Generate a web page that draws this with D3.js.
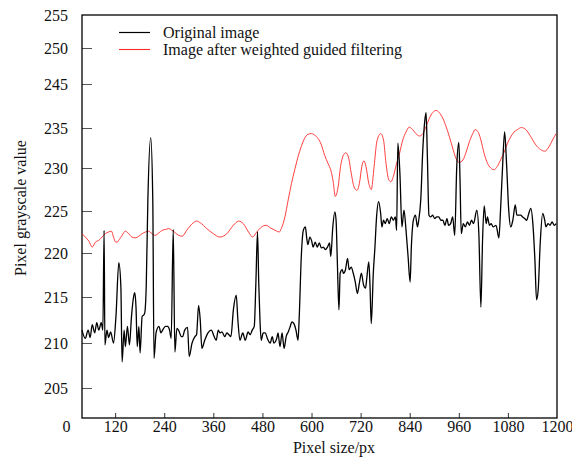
<!DOCTYPE html>
<html>
<head>
<meta charset="utf-8">
<script src="https://cdn.jsdelivr.net/npm/d3@7"></script>
<style>
  body { margin: 0; background: #fff; }
  svg text { font-family: "Liberation Serif", Tinos, "Times New Roman", Times, "DejaVu Serif", serif; }
</style>
</head>
<body>
<div id="chart"></div>
<script>
// Series: [pixel position, grayscale value]
const original = [[39,211.4],[47,210.5],[54,211.4],[59,210.6],[64,212.0],[70,211.1],[75,212.2],[80,211.4],[86,212.2],[90,211.4],
  [93,222.7],[95,209.8],[100,211.4],[104,210.6],[109,211.2],[116,210.0],[122,212.9],[129,218.9],[134,216.2],[137,207.9],
  [142,211.4],[145,209.6],[150,211.8],[155,209.8],[160,212.9],[165,215.0],[168,215.5],[171,213.9],[174,209.6],[178,211.8],
  [181,208.9],[186,212.9],[189,213.0],[192,213.2],[196,216.2],[200,226.3],[207,233.8],[212,226.3],[215,208.3],[220,211.1],
  [227,211.8],[232,211.1],[236,211.4],[243,211.8],[248,211.8],[253,211.4],[257,210.5],[262,222.8],[266,209.0],[271,211.6],
  [275,211.4],[282,210.7],[285,210.7],[290,211.4],[297,211.7],[301,208.5],[308,210.0],[315,210.7],[319,210.9],[324,214.1],
  [328,212.5],[332,209.4],[339,210.3],[347,211.1],[355,211.4],[362,210.7],[367,210.3],[372,211.4],[376,211.1],[381,211.2],
  [388,210.7],[393,211.1],[398,210.9],[403,210.7],[409,213.6],[416,215.2],[420,212.5],[425,210.3],[432,211.1],[438,210.3],
  [445,211.2],[450,210.9],[455,211.4],[460,211.8],[464,216.6],[468,222.5],[471,216.6],[474,212.5],[477,210.3],[482,211.1],
  [487,211.1],[492,210.5],[499,210.0],[504,210.7],[508,210.0],[515,210.5],[518,211.1],[523,209.6],[528,211.1],[533,209.4],
  [538,210.7],[543,211.2],[548,211.8],[552,212.3],[557,212.1],[562,211.4],[567,210.3],[570,212.9],[575,219.6],[580,222.7],
  [585,223.1],[588,221.9],[591,221.0],[596,221.9],[600,221.5],[604,220.7],[609,221.3],[614,220.7],[619,221.2],[624,220.6],
  [629,220.7],[634,220.4],[639,220.7],[644,221.2],[647,219.6],[652,223.1],[657,224.9],[660,223.9],[663,219.2],[667,213.6],
  [670,217.7],[675,218.1],[678,217.7],[683,218.1],[688,219.4],[692,218.1],[697,218.4],[702,217.7],[707,216.7],[712,215.4],
  [717,216.6],[722,217.7],[727,216.4],[732,216.0],[735,217.1],[740,219.0],[743,216.2],[746,212.1],[751,217.7],[755,220.7],
  [759,224.3],[764,226.1],[769,224.7],[772,223.1],[776,223.9],[780,223.5],[785,224.1],[790,223.5],[795,224.3],[800,223.9],
  [805,224.3],[808,222.7],[811,233.1],[816,229.4],[821,223.1],[826,225.1],[831,222.7],[836,219.6],[841,216.7],[844,220.7],
  [849,223.9],[854,224.5],[859,223.1],[862,223.9],[867,226.3],[872,232.3],[877,236.8],[880,238.5],[883,231.8],[887,224.5],
  [891,224.3],[896,224.5],[901,224.1],[906,224.3],[911,224.3],[916,223.9],[921,223.9],[926,223.3],[931,224.1],[935,223.3],
  [940,223.5],[945,224.3],[950,222.1],[955,230.2],[960,233.2],[963,228.6],[966,222.3],[971,223.5],[976,223.1],[981,223.7],
  [986,223.3],[991,223.9],[996,223.5],[1004,225.1],[1009,222.3],[1014,213.9],[1018,221.5],[1022,225.6],[1027,223.5],[1030,224.3],
  [1035,223.3],[1039,223.5],[1044,223.1],[1051,223.3],[1058,221.8],[1062,225.1],[1067,230.2],[1072,234.5],[1077,230.2],[1082,225.1],
  [1087,223.1],[1092,223.9],[1098,225.7],[1102,224.5],[1106,224.5],[1111,224.5],[1116,224.3],[1121,224.1],[1126,223.9],[1131,224.7],
  [1136,225.3],[1141,223.5],[1146,219.2],[1150,214.7],[1154,215.8],[1159,221.2],[1165,224.7],[1170,223.9],[1173,223.1],[1178,223.5],
  [1183,223.3],[1188,223.7],[1193,223.3],[1198,223.5]];

const filtered = [[39,222.3],[47,221.9],[56,221.4],[64,220.7],[72,221.3],[80,221.5],[88,221.9],[96,222.3],[104,222.5],[111,222.6],
  [116,221.9],[121,221.3],[125,221.3],[130,221.6],[137,222.1],[145,222.6],[153,222.3],[161,221.9],[169,221.8],[178,222.0],
  [186,222.3],[194,222.5],[202,222.6],[210,222.3],[218,222.1],[227,222.4],[235,222.7],[243,222.8],[251,222.9],[259,222.7],
  [267,222.4],[275,222.1],[284,222.0],[295,222.7],[311,223.6],[319,223.8],[328,223.6],[344,222.9],[360,222.3],[376,221.9],
  [393,222.3],[409,223.3],[422,223.8],[433,223.5],[446,222.5],[456,221.9],[466,222.5],[478,223.1],[489,223.3],[499,223.0],
  [511,222.7],[521,222.5],[526,222.9],[535,224.3],[543,226.3],[551,228.2],[559,229.8],[567,231.4],[575,232.7],[583,233.7],
  [591,234.2],[600,234.3],[608,234.1],[616,233.7],[624,232.9],[632,231.6],[640,230.6],[648,229.6],[653,228.4],[658,226.7],
  [665,227.8],[671,230.2],[678,231.6],[684,231.9],[691,231.2],[697,229.4],[704,227.8],[711,227.4],[717,228.2],[723,230.2],
  [728,230.9],[733,230.2],[740,228.2],[746,227.5],[753,230.2],[759,233.1],[763,233.9],[769,234.3],[776,233.5],[782,230.6],
  [789,228.6],[794,228.4],[800,229.0],[807,230.4],[815,231.8],[823,233.5],[831,234.5],[839,235.2],[847,234.8],[855,234.3],
  [864,234.0],[872,234.3],[880,235.3],[888,237.2],[896,238.5],[904,239.0],[912,238.5],[921,237.2],[929,235.3],[937,233.9],
  [945,232.5],[953,231.2],[961,230.7],[970,231.0],[978,232.0],[986,233.3],[994,234.3],[1000,234.8],[1004,234.7],[1009,234.3],
  [1014,233.5],[1022,231.8],[1030,230.6],[1038,230.0],[1046,229.8],[1054,230.2],[1062,231.0],[1071,232.0],[1079,233.1],[1087,233.9],
  [1095,234.5],[1103,234.8],[1113,235.1],[1124,234.8],[1136,233.9],[1148,232.9],[1160,232.3],[1170,232.1],[1181,232.7],[1189,233.5],
  [1198,234.3]];

const xTicks = [0, 120, 240, 360, 480, 600, 720, 840, 960, 1080, 1200];
// the source axis skips 240 and is unevenly spaced
const yTicks = [205, 210, 215, 220, 225, 230, 235, 245, 250, 255];
const seriesNames = ["Original image", "Image after weighted guided filtering"];
const seriesColors = ["#000000", "#ff2a2a"];

const margin = { top: 15, right: 15, bottom: 44, left: 82 };
const width = 572 - margin.left - margin.right;
const height = 462 - margin.top - margin.bottom;
const fontFamily = '"Liberation Serif", Tinos, "Times New Roman", Times, "DejaVu Serif", serif';

const svg = d3.select("#chart")
  .append("svg")
  .attr("width", 572)
  .attr("height", 462)
  .style("font-family", fontFamily)
  .append("g")
  .attr("transform", `translate(${margin.left},${margin.top})`);

// Scales
const x = d3.scaleLinear()
  .domain([original[0][0], 1200])
  .range([0, width]);

// piecewise scale so the ticks fall where they sit in the source figure
const y = d3.scaleLinear()
  .domain([201.7].concat(yTicks))
  .range([height, 373, 328, 282, 238, 196, 153, 113, 69, 33, 0]);

// Axes
svg.append("g")
  .attr("transform", `translate(0,${height})`)
  .call(d3.axisBottom(x).tickValues(xTicks).tickFormat(d3.format("d"))
    .tickSizeInner(-5).tickSizeOuter(0).tickPadding(3))
  .call(g => g.select(".domain").remove())
  .call(g => g.selectAll(".tick").filter(d => d === 0 || d === 1200).select("line").remove())
  .call(g => g.selectAll(".tick line").attr("stroke", "#333"))
  .call(g => g.selectAll(".tick text").attr("fill", "#111"))
  .attr("font-size", 16)
  .attr("font-family", null);

svg.append("g")
  .call(d3.axisLeft(y).tickValues(yTicks).tickSizeInner(-10).tickSizeOuter(0).tickPadding(14))
  .call(g => g.select(".domain").remove())
  .call(g => g.selectAll(".tick").filter(d => d === 255).select("line").remove())
  .call(g => g.selectAll(".tick line").attr("stroke", "#555"))
  .call(g => g.selectAll(".tick text").attr("fill", "#111"))
  .attr("font-size", 16)
  .attr("font-family", null);

// Frame
svg.append("rect")
  .attr("width", width)
  .attr("height", height)
  .attr("fill", "none")
  .attr("stroke", "#000")
  .attr("stroke-width", 1.3);

// Lines
const line = d3.line()
  .x(d => x(d[0]))
  .y(d => y(d[1]))
  .curve(d3.curveMonotoneX);

svg.append("path")
  .datum(filtered)
  .attr("fill", "none")
  .attr("stroke", seriesColors[1])
  .attr("stroke-width", 0.9)
  .attr("d", line);

svg.append("path")
  .datum(original)
  .attr("fill", "none")
  .attr("stroke", seriesColors[0])
  .attr("stroke-width", 1.3)
  .attr("d", line);

// Axis titles
svg.append("text")
  .attr("x", 252)
  .attr("y", height + 35)
  .attr("text-anchor", "middle")
  .attr("font-size", 16)
  .attr("fill", "#111")
  .text("Pixel size/px");

svg.append("text")
  .attr("transform", `translate(-56,${193}) rotate(-90)`)
  .attr("text-anchor", "middle")
  .attr("font-size", 16)
  .attr("fill", "#111")
  .text("Pixel grayscale value");

// Legend
const legend = svg.append("g").attr("transform", "translate(37,17.5)");
seriesNames.forEach((name, i) => {
  const row = legend.append("g").attr("transform", `translate(0,${i * 17})`);
  row.append("path")
    .attr("d", "M0,0H31")
    .attr("fill", "none")
    .style("stroke", seriesColors[i])
    .style("stroke-width", i === 0 ? 1.2 : 1.1);
  row.append("text")
    .attr("x", 44)
    .attr("y", 5)
    .attr("font-size", 16)
    .attr("fill", "#111")
    .text(name);
});
</script>
</body>
</html>
